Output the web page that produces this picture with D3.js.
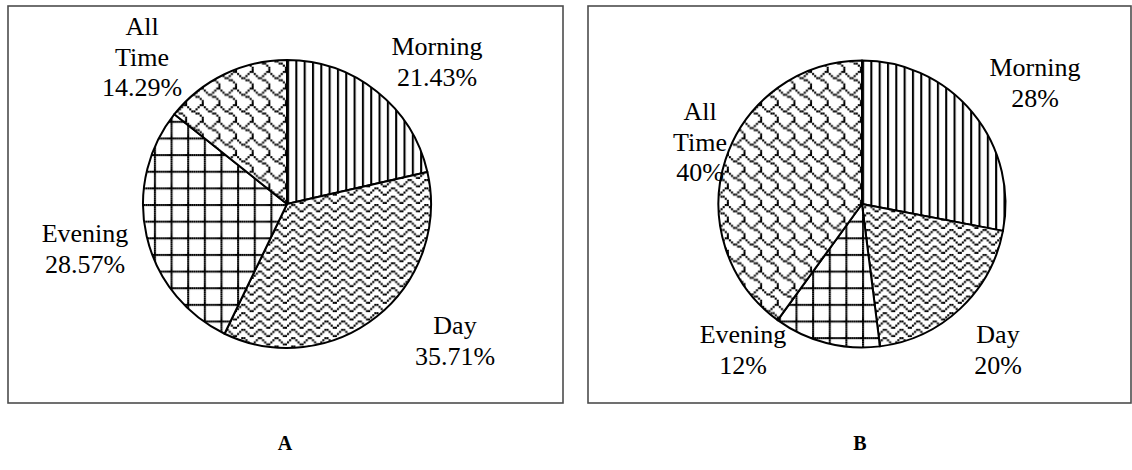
<!DOCTYPE html>
<html>
<head>
<meta charset="utf-8">
<script src="https://cdn.jsdelivr.net/npm/d3@7"></script>
<style>
  body { margin: 0; background: #fff; }
  svg { display: block; }
</style>
</head>
<body>
<svg id="chart"></svg>
<script>
// data
const categories = ["Morning", "Day", "Evening", "All Time"];
const valuesA = [21.43, 35.71, 28.57, 14.29];
const valuesB = [28, 20, 12, 40];
const pctLabelsA = ["21.43%", "35.71%", "28.57%", "14.29%"];
const pctLabelsB = ["28%", "20%", "12%", "40%"];
const panelNames = ["A", "B"];

const width = 1132, height = 470;
const svg = d3.select("#chart")
  .attr("width", width)
  .attr("height", height)
  .attr("viewBox", `0 0 ${width} ${height}`);

const font = "'Liberation Serif', 'Times New Roman', serif";

// --- fill patterns (bitmaps like the office hatch fills) ---
const px = 2.08;
const defs = svg.append("defs");

function bitmapPattern(id, rows) {
  const w = rows[0].length, h = rows.length;
  const p = defs.append("pattern")
    .attr("id", id)
    .attr("patternUnits", "userSpaceOnUse")
    .attr("width", w * px)
    .attr("height", h * px);
  p.append("rect")
    .attr("width", w * px).attr("height", h * px)
    .attr("fill", "#fff");
  rows.forEach((r, j) => {
    for (let i = 0; i < w; i++) {
      if (r[i] === "1") {
        p.append("rect")
          .attr("x", i * px).attr("y", j * px)
          .attr("width", px).attr("height", px)
          .attr("fill", "#000");
      }
    }
  });
}

bitmapPattern("vert", ["1000"]);
bitmapPattern("wave", ["00110000", "01001000", "10000100", "00000011"]);
bitmapPattern("grid", ["11111111", "10000000", "10000000", "10000000",
                       "10000000", "10000000", "10000000", "10000000"]);
bitmapPattern("shingle", ["00000011", "10000100", "01001000", "00110000",
                          "00001100", "00000010", "00000001", "00000001"]);

const fills = d3.scaleOrdinal()
  .domain(categories)
  .range(["url(#vert)", "url(#wave)", "url(#grid)", "url(#shingle)"]);

// panel layout
const panels = [
  { name: panelNames[0], values: valuesA, pct: pctLabelsA,
    frame: [8, 6, 563, 403], cx: 287, cy: 204, r: 144,
    // label offsets from the pie centre (x centre, first baseline)
    lab: [[150, -149], [168, 130], [-202, 38], [-145, -169]] },
  { name: panelNames[1], values: valuesB, pct: pctLabelsB,
    frame: [588, 6, 1131, 403], cx: 862, cy: 204, r: 143.5,
    lab: [[173, -128], [136, 139], [-119, 139], [-162, -84]] }
];

const pie = d3.pie().sort(null).value(d => d.value);
const lineGap = 30.5;

panels.forEach(pn => {
  const [x0, y0, x1, y1] = pn.frame;
  svg.append("rect")
    .attr("x", x0).attr("y", y0)
    .attr("width", x1 - x0).attr("height", y1 - y0)
    .attr("fill", "none")
    .attr("stroke", "#4d4d4d")
    .attr("stroke-width", 1.6);

  const data = categories.map((c, i) => ({ cat: c, value: pn.values[i], pct: pn.pct[i] }));
  const arc = d3.arc().innerRadius(0).outerRadius(pn.r);

  const g = svg.append("g")
    .attr("transform", `translate(${pn.cx},${pn.cy})`);

  g.selectAll("path")
    .data(pie(data))
    .join("path")
    .attr("d", arc)
    .attr("fill", d => fills(d.data.cat))
    .attr("stroke", "#000")
    .attr("stroke-width", 2)
    .attr("stroke-linejoin", "round");

  // labels
  data.forEach((d, i) => {
    const lines = d.cat.split(" ").concat([d.pct]);
    const t = g.append("text")
      .attr("text-anchor", "middle")
      .attr("font-family", font)
      .attr("font-size", 26)
      .attr("fill", "#000");
    lines.forEach((l, k) => {
      t.append("tspan")
        .attr("x", pn.lab[i][0])
        .attr("y", pn.lab[i][1] + k * lineGap)
        .text(l);
    });
  });

  svg.append("text")
    .attr("x", pn.cx - 2)
    .attr("y", 450)
    .attr("text-anchor", "middle")
    .attr("font-family", font)
    .attr("font-weight", "bold")
    .attr("font-size", 20)
    .text(pn.name);
});
</script>
</body>
</html>
